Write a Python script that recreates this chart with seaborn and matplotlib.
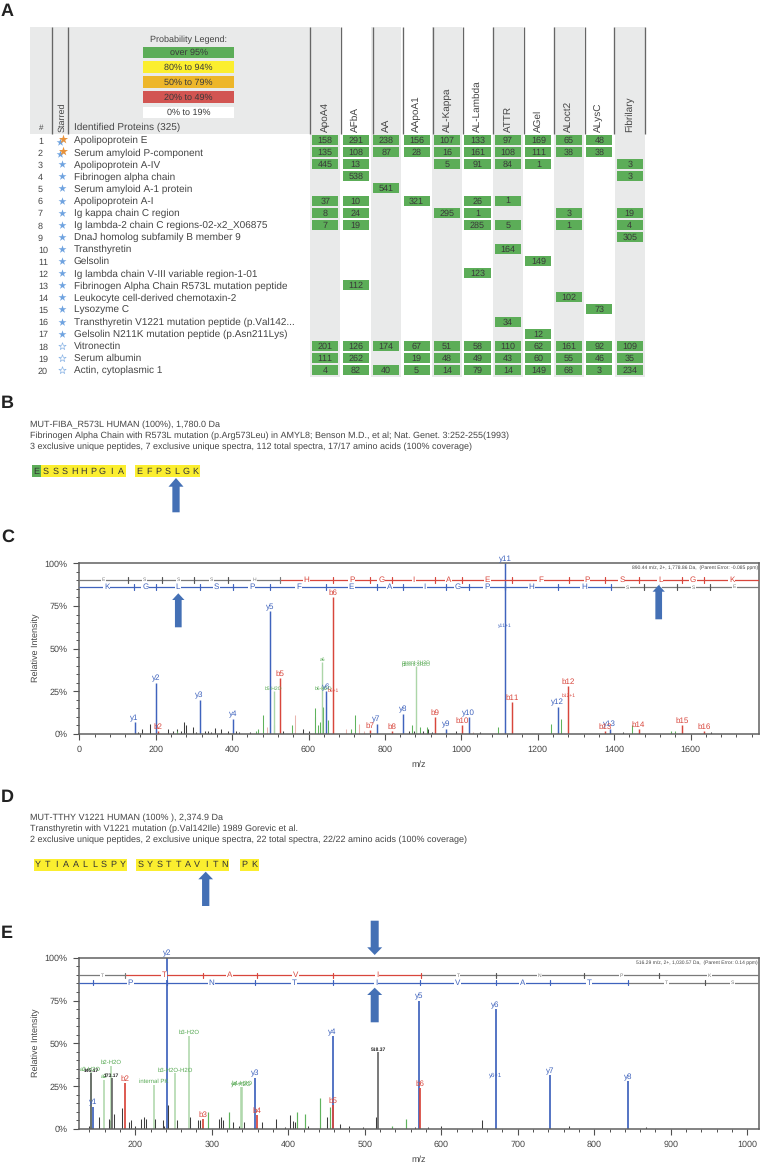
import numpy as np
import pandas as pd
import seaborn as sns
import matplotlib
matplotlib.use("Agg")
import matplotlib.pyplot as plt
from matplotlib.colors import ListedColormap
from matplotlib.patches import Polygon, Rectangle
from matplotlib.ticker import MultipleLocator, FuncFormatter

# ---------- data: protein table ----------
columns = ["ApoA4","AFbA","AA","AApoA1","AL-Kappa","AL-Lambda","ATTR","AGel","ALoct2","ALysC","Fibrilary"]
proteins = ["Apolipoprotein E","Serum amyloid P-component","Apolipoprotein A-IV","Fibrinogen alpha chain",
    "Serum amyloid A-1 protein","Apolipoprotein A-I","Ig kappa chain C region",
    "Ig lambda-2 chain C regions-02-x2_X06875","DnaJ homolog subfamily B member 9","Transthyretin","Gelsolin",
    "Ig lambda chain V-III variable region-1-01","Fibrinogen Alpha Chain R573L mutation peptide",
    "Leukocyte cell-derived chemotaxin-2","Lysozyme C","Transthyretin V1221 mutation peptide (p.Val142...",
    "Gelsolin N211K mutation peptide (p.Asn211Lys)","Vitronectin","Serum albumin","Actin, cytoplasmic 1"]
star_kind = ["both","both"] + ["filled"]*15 + ["hollow"]*3
n = None
counts = [
 [158,291,238,156,107,133,97,169,65,48,n],
 [135,108,87,28,16,161,108,111,38,38,n],
 [445,13,n,n,5,91,84,1,n,n,3],
 [n,538,n,n,n,n,n,n,n,n,3],
 [n,n,541,n,n,n,n,n,n,n,n],
 [37,10,n,321,n,26,1,n,n,n,n],
 [8,24,n,n,295,1,n,n,3,n,19],
 [7,19,n,n,n,285,5,n,1,n,4],
 [n,n,n,n,n,n,n,n,n,n,305],
 [n,n,n,n,n,n,164,n,n,n,n],
 [n,n,n,n,n,n,n,149,n,n,n],
 [n,n,n,n,n,123,n,n,n,n,n],
 [n,112,n,n,n,n,n,n,n,n,n],
 [n,n,n,n,n,n,n,n,102,n,n],
 [n,n,n,n,n,n,n,n,n,73,n],
 [n,n,n,n,n,n,34,n,n,n,n],
 [n,n,n,n,n,n,n,12,n,n,n],
 [201,126,174,67,51,58,110,62,161,92,109],
 [111,262,n,19,48,49,43,60,55,46,35],
 [4,82,40,5,14,79,14,149,68,3,234]]
legend_labels = ["over 95%","80% to 94%","50% to 79%","20% to 49%","0% to 19%"]
legend_colors = ["#5CAD58","#FBEE2F","#EDB62A","#D25552","#FFFFFF"]

# ---------- data: spectrum C ----------
c_y_mz=[145,202,315,402,500,647,778,848,961,1019,1115,1252,1389]
c_y_int=[7,30,20,9,72,25,6,12,3,10,100,16,3]
c_y_lab=["y1","y2","y3","y4","y5","y6","y7","y8","y9","y10","y11","y12","y13"]
c_b_mz=[205,526,664,762,818,932,1002,1132,1280,1376,1464,1577,1635]
c_b_int=[2,33,80,2.5,2,10,5,19,28,2,3,5,2]
c_b_lab=["b2","b5","b6","b7","b8","b9","b10","b11","b12","b13","b14","b15","b16"]
c_small_mz=[509,636,640,664,882,882,1115,1280]
c_small_int=[25,42,25,24,40,39,62,21]
c_small_lab=["b5-H2O","a6","b6-H2O","b6+1","parent-2H2O","parent-3H2O","y11+1","b12+1"]
c_small_col=["g","g","g","r","g","g","y","r"]
c_green_mz=[255,463,467,481,556,616,625,630,638,651,712,722,872,893,910,1097,1235,1262,1447,1549,1560]
c_green_int=[2,2,3,11,5,15,5,7,16,8,3,11,5,4,4,4,6,9,5,1.5,2]
c_pale_mz=[491,565,731,698,745,1030]
c_pale_int=[4,11,6,3,2,1]
c_noise_mz=[153,164,184,232,245,256,266,273,278,297,306,329,336,345,354,371,389,411,419,446,509,534,585,601,616,638,863,875,900,913,922,987,1049,1424,1653]
c_noise_int=[1,3,6,3,2,3,2,7,5,4,1,2,1.5,1,3.5,3,1.5,1.5,1,1,5,2,3,1.5,10,15,2,2,2,3,1,2,1,1,1]
c_up_res=list("ESSSHHPGIAEFPSLGK")
c_up_ticks=[127,216,301,389,526,664,762,819,932,1003,1133,1281,1377,1464,1577,1635]
c_low_res=list("KGLSPFEAIGPHH")+list("SLSE")
c_low_ticks=[144,202,315,402,500,647,778,847,961,1019,1115,1252,1391,1477,1564,1651]
c_up_colored=(5,17)
c_low_colored=(0,13)

# ---------- data: spectrum E ----------
e_y_mz=[144.7,241.8,357,458,571,671,742.5,844]
e_y_int=[13,100,30,54,75,70,31.5,28]
e_y_lab=["y1","y2","y3","y4","y5","y6","y7","y8"]
e_b_mz=[187,288,359.5,459,572]
e_b_int=[26.7,6,8,14,24]
e_b_lab=["b2","b3","b4","b5","b6"]
e_small_mz=[141.6,159,168.6,224,252,270,338,340,671]
e_small_int=[33,28.6,37,25.7,32.5,54.5,24.5,24.7,29.5]
e_small_lab=["a3-H2O","a2","b2-H2O","internal PK","b3-H2O-H2O","b3-H2O","y4-H2O","b4-H2O","y6+1"]
e_small_col=["g","g","g","g","g","g","g","g","y"]
e_black_mz=[142,169,517.6]
e_black_int=[32.5,29.6,45]
e_black_lab=["145.17","173.17","518.37"]
e_green_mz=[295,323,411,422,441,454,536,554]
e_green_int=[10,10,10,9,18,13,2,6]
e_noise_mz=[139,153,165,167,172.5,183,192,195,200,208,211,214,226,236,238,243,254,271,282,285,310,312,314,328,336,342,366,384,396,402,406,409,426,450,451,467,480,498,515,566,582,600,653.6,767,867]
e_noise_int=[2,7,6,5,9,12,4,5,2,6,7,6,6,5,2,14,5,7,5,5,6,7,5,4,2,4,4,6,1,8,4.5,4,2,3,7,3,2,1,7,1,1,2,5,2,1]
e_up_res=list("TTAVITNPK")
e_up_ticks=[187,288,359.5,459,573,671,786,885]
e_low_res=[""]+list("PNTIVATTS")
e_low_ticks=[144.7,242,357,458,571.7,671,742.5,843.6,945]
e_up_colored=(1,5)
e_low_colored=(0,8)

# ---------- style ----------
sns.set_theme(style="white")
plt.rcParams["font.family"] = ["Liberation Sans", "DejaVu Sans"]
plt.rcParams["text.hinting"] = "no_hinting"
plt.rcParams["text.hinting_factor"] = 1
TXT = "#454545"
GREEN = "#5CAD58"; BLUE = "#3F63BD"; RED = "#D8463C"; LGREEN = "#5FB35C"; PALE = "#ACD6A8"; GRAY = "#7A7A7A"
ARROW = "#4470B5"
W, H = 760, 1165
fig = plt.figure(figsize=(W/100, H/100), dpi=100, facecolor="white")

def px_axes(x0, y0, x1, y1, z=1):
    return fig.add_axes([x0/W, 1-y1/H, (x1-x0)/W, (y1-y0)/H], zorder=z)

# stripes through seaborn
ax_st = px_axes(310, 27, 645, 377, 0)
sns.heatmap(np.array([[(i+1) % 2 for i in range(len(columns))]]), ax=ax_st, cbar=False,
            cmap=ListedColormap(["#FFFFFF", "#E9EAEA"]), xticklabels=False, yticklabels=False)

# green count cells
ax_t = px_axes(310, 134, 645, 376, 2)
ax_t.patch.set_alpha(0); ax_t.axis("off")
ax_t.set_xlim(0, len(columns)); ax_t.set_ylim(len(proteins)-0.5, -0.5)
df = pd.DataFrame(counts, index=proteins, columns=columns)
for r, prot in enumerate(proteins):
    for c, col in enumerate(columns):
        v = df.loc[prot, col]
        if pd.notna(v):
            ax_t.bar(c+0.5, 0.83, width=0.855, bottom=r-0.415, color=GREEN, linewidth=0)
            ax_t.text(c+0.5, r+0.05, str(int(v)), ha="center", va="center", fontsize=6.4, color="#3A3A3A")

# left part of table
ax_l = px_axes(30, 134, 310, 376, 2)
ax_l.patch.set_alpha(0); ax_l.axis("off")
ax_l.set_xlim(30, 310); ax_l.set_ylim(len(proteins)-0.5, -0.5)
for r, (prot, kind) in enumerate(zip(proteins, star_kind)):
    ax_l.text(38, r+0.12, str(r+1), ha="left", va="center", fontsize=6.8, color=TXT)
    ax_l.text(73.5, r+0.06, prot, ha="left", va="center", fontsize=6.85, color=TXT)
    if kind == "both":
        ax_l.scatter([59.5], [r+0.14], marker="*", s=34, color="#6FA3E0", linewidth=0)
        ax_l.scatter([62.8], [r-0.1], marker="*", s=48, color="#E8923A", linewidth=0)
    elif kind == "filled":
        ax_l.scatter([61.5], [r], marker="*", s=36, color="#6FA3E0", linewidth=0)
    else:
        ax_l.scatter([61.5], [r], marker="*", s=30, facecolor="white", edgecolor="#8DB6E6", linewidth=0.5)

# overlay in figure pixels
ov = px_axes(0, 0, W, H, 5)
ov.patch.set_alpha(0); ov.axis("off")
ov.set_xlim(0, W); ov.set_ylim(H, 0)
ov_bg = px_axes(0, 0, W, H, -1)
ov_bg.axis("off"); ov_bg.set_xlim(0, W); ov_bg.set_ylim(H, 0)
ov_bg.add_patch(Rectangle((30, 27), 280, 107, color="#E9EAEA", lw=0))

for x in [52.3, 68.3, 310, 340.7, 372.7, 403.3, 432.7, 463.3, 493.3, 524, 554, 585, 614.3, 645]:
    ov.plot([x, x], [27, 134], color="#666666", lw=0.95, solid_capstyle="butt")

ov.text(188, 40, "Probability Legend:", ha="center", va="center", fontsize=6.75, color=TXT)
for (y0, y1), lab, colr in zip([(46.7,58),(61.3,72.7),(76.3,87.7),(91,102.7),(106.7,118)], legend_labels, legend_colors):
    ov.add_patch(Rectangle((143, y0), 91, y1-y0, color=colr, lw=0))
    ov.text(188.5, (y0+y1)/2+0.3, lab, ha="center", va="center", fontsize=6.75, color="#3A3A3A")
ov.text(41, 127.5, "#", ha="center", va="center", fontsize=5.8, color=TXT)
ov.text(62, 132, "Starred", ha="center", va="bottom", rotation=90, fontsize=6.7, color=TXT)
ov.text(73.5, 127.5, "Identified Proteins (325)", ha="left", va="center", fontsize=6.85, color=TXT)
for i, col in enumerate(columns):
    ov.text(325.3+30.44*i, 131.5, col, ha="center", va="bottom", rotation=90, fontsize=6.9, color=TXT)

for lab, y in zip("ABCDE", [11, 403, 537, 797, 933]):
    ov.text(1, y, lab, ha="left", va="center", fontsize=12.8, fontweight="bold", color="#222222")

for y, s in zip([424.7, 435.7, 447],
    ["MUT-FIBA_R573L HUMAN (100%), 1,780.0 Da",
     "Fibrinogen Alpha Chain with R573L mutation (p.Arg573Leu) in AMYL8; Benson M.D., et al; Nat. Genet. 3:252-255(1993)",
     "3 exclusive unique peptides, 7 exclusive unique spectra, 112 total spectra, 17/17 amino acids (100% coverage)"]):
    ov.text(30.5, y, s, ha="left", va="center", fontsize=6.8, color=TXT)
for y, s in zip([817.7, 829, 840.3],
    ["MUT-TTHY V1221 HUMAN (100% ), 2,374.9 Da",
     "Transthyretin with V1221 mutation (p.Val142Ile) 1989 Gorevic et al.",
     "2 exclusive unique peptides, 2 exclusive unique spectra, 22 total spectra, 22/22 amino acids (100% coverage)"]):
    ov.text(30.5, y, s, ha="left", va="center", fontsize=6.8, color=TXT)

def seq_block(x0, x1, y0, y1, letters):
    ov.add_patch(Rectangle((x0, y0), x1-x0, y1-y0, color="#FBEE2F", lw=0))
    pitch = 9.38
    start = (x0+x1)/2 - pitch*(len(letters)-1)/2
    for i, ch in enumerate(letters):
        ov.text(start+i*pitch, (y0+y1)/2+0.2, ch, ha="center", va="center", fontsize=6.7, color="#333333", zorder=4)

seq_block(32, 125.7, 465.3, 477.3, "ESSSHHPGIA")
ov.add_patch(Rectangle((32, 465.3), 8.7, 12, color=GREEN, lw=0, zorder=3))
seq_block(135, 200, 465.3, 477.3, "EFPSLGK")
seq_block(33.7, 126.7, 858.7, 870.7, "YTIAALLSPY")
seq_block(136.3, 229.3, 858.7, 870.7, "SYSTTAVITN")
seq_block(240, 258.7, 858.7, 870.7, "PK")

def arrow(xc, tip, head_end, tail, hw, sw):
    ov.add_patch(Polygon([(xc, tip), (xc+hw/2, head_end), (xc+sw/2, head_end), (xc+sw/2, tail),
                          (xc-sw/2, tail), (xc-sw/2, head_end), (xc-hw/2, head_end)],
                         closed=True, color=ARROW, lw=0, zorder=6))

arrow(176, 478, 486.7, 512.3, 15, 7.3)
arrow(178.3, 593.3, 600, 627.3, 12.3, 6.7)
arrow(658.7, 585, 591.7, 619.3, 12.3, 6.7)
arrow(205.7, 871.7, 879.3, 906, 14.7, 7.3)
arrow(374.7, 955, 947.3, 920.7, 15, 8)
arrow(374.7, 987.7, 995, 1022.3, 15, 8)

def ladder(ax, y, ticks, res, colored, col, xlim):
    edges = [xlim[0]] + list(ticks) + [xlim[1]]
    for i, r in enumerate(res):
        on = colored[0] <= i < colored[1]
        c = col if on else GRAY
        x0, x1 = edges[i], edges[i+1]
        ax.plot([x0, x1], [y, y], color=c, lw=0.9, solid_capstyle="butt", zorder=3)
        if r:
            ax.text((x0+x1)/2, y, r, ha="center", va="center",
                    fontsize=5.8 if on else 3.8, color=c, zorder=4,
                    bbox=dict(fc="white", ec="none", pad=0.6))
        if i < len(ticks):
            ax.plot([ticks[i]]*2, [y-1.6, y+1.6], color=c if (on or colored[0] <= i+1 < colored[1]) else "#555555",
                    lw=0.85, zorder=5)

def sticks(ax, mz, hi, color, lw=0.9, z=2):
    ax.vlines(mz, 0, hi, color=color, lw=lw, zorder=z)

def labels(ax, mz, hi, labs, color, size, bold=False, z=6):
    for m, h, l in zip(mz, hi, labs):
        ax.annotate(l, (m, h), xytext=(0, 0.3), textcoords="offset points", ha="center", va="bottom",
                    fontsize=size, color=color, annotation_clip=False, zorder=z,
                    fontweight="bold" if bold else "normal")

def spectrum(y_top, y_bot, xlim, major, minor, info):
    ax = px_axes(79.3, y_top, 759.3, y_bot, 3)
    ax.set_xlim(*xlim); ax.set_ylim(0, 100)
    ax.patch.set_alpha(0)
    for s in ax.spines.values():
        s.set_color("#606060"); s.set_linewidth(1.1); s.set_visible(True)
    ax.xaxis.set_major_locator(MultipleLocator(major)); ax.xaxis.set_minor_locator(MultipleLocator(minor))
    ax.yaxis.set_major_locator(MultipleLocator(25)); ax.yaxis.set_minor_locator(MultipleLocator(5))
    ax.yaxis.set_major_formatter(FuncFormatter(lambda v, p: f"{int(v)}%"))
    ax.tick_params(axis="both", which="major", length=4.5, width=0.8, color="#505050", labelcolor=TXT, labelsize=6.7, pad=4,
                   bottom=True, left=True)
    ax.tick_params(axis="both", which="minor", length=2.2, width=0.7, color="#505050", bottom=True, left=True)
    ax.set_xlabel(""); ax.set_ylabel("")
    ax.text(0.998, 0.986, info, transform=ax.transAxes, ha="right", va="top", fontsize=3.95, color="#444444")
    return ax

# ---------- C ----------
xlim_c = (0, 1780)
ax_c = spectrum(563.3, 734, xlim_c, 200, 40, "890.44 m/z, 2+, 1,778.86 Da,  (Parent Error: -0.085 ppm)")
ov.text(36, 648, "Relative Intensity", rotation=90, ha="center", va="center", fontsize=6.6, color=TXT)
ov.text(419, 765, "m/z", ha="center", va="center", fontsize=6.8, color=TXT)
ladder(ax_c, 90.2, c_up_ticks, c_up_res, c_up_colored, RED, xlim_c)
ladder(ax_c, 86, c_low_ticks, c_low_res, c_low_colored, BLUE, xlim_c)
sticks(ax_c, c_noise_mz, c_noise_int, "#3C3C3C", 0.75)
sticks(ax_c, c_pale_mz, c_pale_int, "#E9B5AE", 0.75)
sticks(ax_c, c_green_mz, c_green_int, LGREEN, 0.75)
sticks(ax_c, [636, 882, 509], [42, 40, 25], PALE, 1.0)
sticks(ax_c, c_y_mz, c_y_int, BLUE, 1.05)
sticks(ax_c, c_b_mz, c_b_int, RED, 1.05)
labels(ax_c, c_y_mz, c_y_int, c_y_lab, BLUE, 5.9)
labels(ax_c, c_b_mz, c_b_int, c_b_lab, RED, 5.9)
cmap_small = {"g": "#55A852", "r": RED, "y": BLUE}
for m, h, l, c in zip(c_small_mz, c_small_int, c_small_lab, c_small_col):
    labels(ax_c, [m], [h], [l], cmap_small[c], 3.8)

# ---------- E ----------
xlim_e = (126.8, 1015.7)
ax_e = spectrum(957.7, 1129, xlim_e, 100, 20, "516.29 m/z, 2+, 1,030.57 Da,  (Parent Error: 0.14 ppm)")
ov.text(36, 1043, "Relative Intensity", rotation=90, ha="center", va="center", fontsize=6.6, color=TXT)
ov.text(419, 1160, "m/z", ha="center", va="center", fontsize=6.8, color=TXT)
ladder(ax_e, 89.7, e_up_ticks, e_up_res, e_up_colored, RED, xlim_e)
ladder(ax_e, 85.4, e_low_ticks, e_low_res, e_low_colored, BLUE, xlim_e)
sticks(ax_e, e_noise_mz, e_noise_int, "#3C3C3C", 0.75)
sticks(ax_e, e_green_mz, e_green_int, LGREEN, 0.85)
sticks(ax_e, [141.6, 159, 168.6, 224, 252, 270, 338, 340], [33, 28.6, 37, 25.7, 32.5, 54.5, 24.5, 24.7], PALE, 1.1)
sticks(ax_e, e_black_mz, e_black_int, "#555555", 1.1)
sticks(ax_e, e_y_mz, e_y_int, BLUE, 1.25)
sticks(ax_e, e_b_mz, e_b_int, RED, 1.25)
labels(ax_e, e_y_mz, e_y_int, e_y_lab, BLUE, 5.9)
labels(ax_e, e_b_mz, e_b_int, e_b_lab, RED, 5.9)
for m, h, l, c in zip(e_small_mz, e_small_int, e_small_lab, e_small_col):
    labels(ax_e, [m], [h], [l], cmap_small[c], 4.0)
labels(ax_e, e_black_mz, e_black_int, e_black_lab, "#222222", 3.6, bold=True)

fig.savefig("out.png", dpi=100, facecolor="white")
